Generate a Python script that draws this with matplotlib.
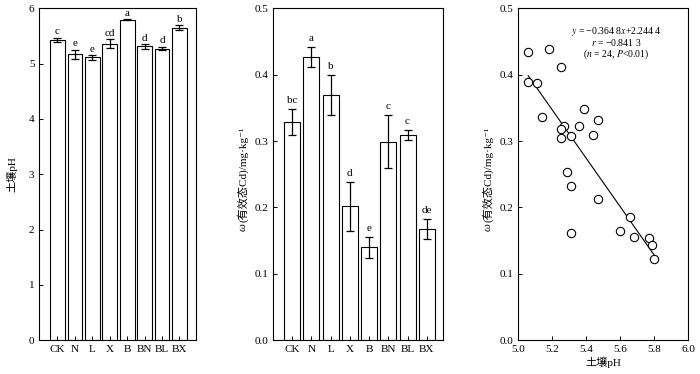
import matplotlib
matplotlib.use("Agg")
import matplotlib.pyplot as plt
import numpy as np

plt.rcParams['font.family'] = ['Liberation Serif', 'Noto Sans CJK SC', 'DejaVu Serif']
plt.rcParams['mathtext.fontset'] = 'stix'
plt.rcParams['axes.unicode_minus'] = False

# 处理
treatments = ["CK", "N", "L", "X", "B", "BN", "BL", "BX"]

# 土壤pH
ph_mean = [5.43, 5.17, 5.11, 5.36, 5.79, 5.31, 5.27, 5.65]
ph_err = [0.04, 0.08, 0.04, 0.08, 0.01, 0.04, 0.03, 0.04]
ph_letters = ["c", "e", "e", "cd", "a", "d", "d", "b"]

# 有效态Cd
cd_mean = [0.329, 0.427, 0.370, 0.202, 0.140, 0.299, 0.309, 0.168]
cd_err = [0.020, 0.015, 0.030, 0.037, 0.016, 0.040, 0.007, 0.015]
cd_letters = ["bc", "a", "b", "d", "e", "c", "c", "de"]

# 散点 (pH, Cd)
sc_ph = [5.06, 5.18, 5.25, 5.06, 5.11, 5.14, 5.39, 5.47, 5.36, 5.27, 5.25, 5.25,
         5.31, 5.44, 5.29, 5.31, 5.47, 5.31, 5.66, 5.60, 5.68, 5.77, 5.79, 5.80]
sc_cd = [0.434, 0.438, 0.411, 0.389, 0.387, 0.336, 0.348, 0.331, 0.322, 0.322, 0.318, 0.304,
         0.307, 0.309, 0.254, 0.233, 0.213, 0.161, 0.185, 0.164, 0.156, 0.154, 0.143, 0.123]
slope, intercept = -0.3648, 2.2444

fig = plt.figure(figsize=(7, 3.74), dpi=100)
ax1 = fig.add_axes([0.056, 0.09, 0.224, 0.888])
ax2 = fig.add_axes([0.390, 0.09, 0.243, 0.888])
ax3 = fig.add_axes([0.740, 0.09, 0.243, 0.888])

x = np.arange(len(treatments))
fs = 8
cd_label = "(有效态Cd)/mg·kg⁻¹"

def bar_panel(ax, mean, err, letters, width, ylim, off):
    ax.bar(x, mean, width=width, color="white", edgecolor="black", linewidth=0.8)
    ax.errorbar(x, mean, yerr=err, fmt="none", ecolor="black", elinewidth=0.9,
                capsize=3, capthick=0.9)
    for xi, m, e, t in zip(x, mean, err, letters):
        ax.text(xi, m + e + off, t, ha="center", va="bottom", fontsize=fs)
    ax.set_xticks(x)
    ax.set_xticklabels(treatments, fontsize=fs)
    ax.set_ylim(*ylim)
    ax.tick_params(direction="in", labelsize=fs, length=3, width=0.7)
    for s in ax.spines.values():
        s.set_linewidth(0.8)

bar_panel(ax1, ph_mean, ph_err, ph_letters, 0.85, (0, 6), 0.03)
ax1.set_xlim(-1.05, 7.95)
ax1.set_yticks(range(0, 7))
ax1.set_ylabel("土壤pH", fontsize=fs, labelpad=8)

bar_panel(ax2, cd_mean, cd_err, cd_letters, 0.83, (0, 0.5), 0.006)
ax2.set_xlim(-1.0, 7.85)
ax2.set_yticks(np.arange(0, 0.51, 0.1))
ax2.yaxis.set_major_formatter(matplotlib.ticker.FormatStrFormatter("%.1f"))
ax2.set_ylabel(cd_label, fontsize=fs)

ax3.scatter(sc_ph, sc_cd, s=36, facecolors="white", edgecolors="black", linewidths=0.8, zorder=3)
xl = np.array([min(sc_ph), max(sc_ph)])
ax3.plot(xl, slope * xl + intercept, color="black", linewidth=0.8, zorder=2)
ax3.set_xlim(5.0, 6.0)
ax3.set_ylim(0, 0.5)
ax3.set_xticks(np.arange(5.0, 6.01, 0.2))
ax3.set_yticks(np.arange(0, 0.51, 0.1))
ax3.xaxis.set_major_formatter(matplotlib.ticker.FormatStrFormatter("%.1f"))
ax3.yaxis.set_major_formatter(matplotlib.ticker.FormatStrFormatter("%.1f"))
ax3.tick_params(direction="in", labelsize=fs, length=3, width=0.7)
for s in ax3.spines.values():
    s.set_linewidth(0.8)
ax3.set_xlabel("土壤pH", fontsize=fs, labelpad=2)
ax3.set_ylabel(cd_label, fontsize=fs)
ax3.text(0.58, 0.93, r"$y$ = −0.364 8$x$+2.244 4", transform=ax3.transAxes,
         ha="center", va="center", fontsize=7)
ax3.text(0.58, 0.896, r"$r$ = −0.841 3", transform=ax3.transAxes,
         ha="center", va="center", fontsize=7)
ax3.text(0.58, 0.862, r"($n$ = 24, $P$<0.01)", transform=ax3.transAxes,
         ha="center", va="center", fontsize=7)

# 斜体 ω 放在纵轴标题前
fig.canvas.draw()
inv = fig.transFigure.inverted()
for ax in (ax2, ax3):
    bb = ax.yaxis.label.get_window_extent()
    x0, y0 = inv.transform((bb.x0 + bb.width / 2, bb.y0 - 1))
    fig.text(x0, y0, "ω", rotation=90, ha="right", va="center", fontsize=fs,
             style="italic", family="Liberation Serif", rotation_mode="anchor")

fig.savefig("out.png", dpi=100)
